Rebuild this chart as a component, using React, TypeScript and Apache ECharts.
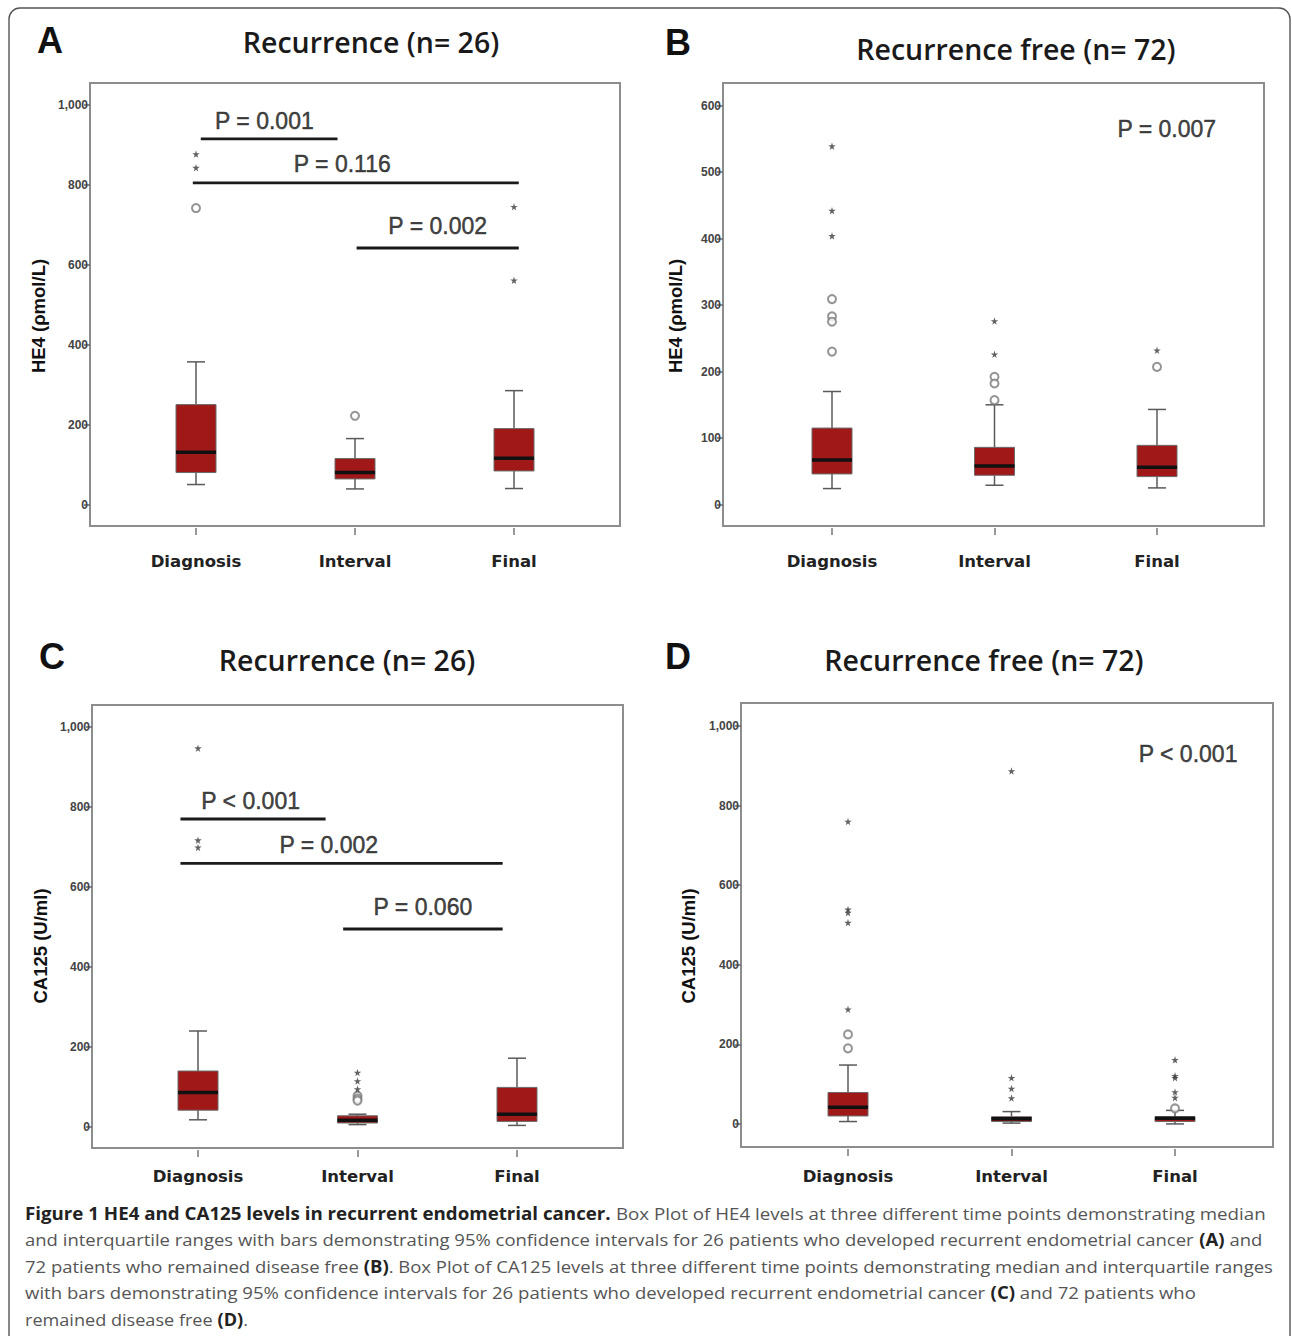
import React, { useEffect, useRef } from "react";
import * as echarts from "echarts";

// ---------------- data ----------------
const CATEGORIES = ["Diagnosis", "Interval", "Final"];

// [category index, lower whisker, Q1, median, Q3, upper whisker]
const A_BOXES = [
  [0, 50, 80, 131, 250, 357],
  [1, 39, 64, 80, 115, 165],
  [2, 40, 84, 116, 190, 285],
];
const A_CIRCLES = [[0, 742], [1, 222]];
const A_STARS = [[0, 877], [0, 843], [2, 745], [2, 561]];

const B_BOXES = [
  [0, 24, 46, 67, 115, 170],
  [1, 29, 44, 58, 86, 150],
  [2, 25, 42, 56, 89, 143],
];
const B_CIRCLES = [[0, 309], [0, 283], [0, 275], [0, 230], [1, 192], [1, 182], [1, 157], [2, 207]];
const B_STARS = [[0, 539], [0, 442], [0, 404], [1, 276], [1, 226], [2, 232]];

const C_BOXES = [
  [0, 18, 42, 86, 140, 240],
  [1, 6, 10, 17, 28, 32],
  [2, 4, 14, 32, 99, 172],
];
const C_CIRCLES = [[1, 78], [1, 71], [1, 66]];
const C_STARS = [[0, 947], [0, 717], [0, 699], [1, 136], [1, 115], [1, 95]];

const D_BOXES = [
  [0, 6, 20, 42, 79, 148],
  [1, 2, 6, 13, 18, 31],
  [2, 0, 6, 14, 18, 34],
];
const D_CIRCLES = [[0, 225], [0, 190], [2, 39]];
const D_STARS = [
  [0, 760], [0, 539], [0, 531], [0, 506], [0, 288],
  [1, 887], [1, 116], [1, 89], [1, 65],
  [2, 161], [2, 121], [2, 116], [2, 80], [2, 66],
];

// significance brackets: [x start, x end, y]  (x in category units)
const A_BRACKETS = [[0.03, 0.89, 915], [-0.02, 2.03, 805], [1.01, 2.03, 642]];
const A_PTEXTS: [string, number, number][] = [["P = 0.001", 0.43, 960], ["P = 0.116", 0.92, 852], ["P = 0.002", 1.52, 697]];
const B_BRACKETS: number[][] = [];
const B_PTEXTS: [string, number, number][] = [["P = 0.007", 2.06, 565]];
const C_BRACKETS = [[-0.11, 0.8, 770], [-0.11, 1.91, 659], [0.91, 1.91, 495]];
const C_PTEXTS: [string, number, number][] = [["P < 0.001", 0.33, 816], ["P = 0.002", 0.82, 705], ["P = 0.060", 1.41, 551]];
const D_BRACKETS: number[][] = [];
const D_PTEXTS: [string, number, number][] = [["P < 0.001", 2.08, 930]];

const TICKS_1000 = [0, 200, 400, 600, 800, 1000];
const TICKS_600 = [0, 100, 200, 300, 400, 500, 600];

const PANEL_LETTERS = ["A", "B", "C", "D"];
const PANEL_TITLES = ["Recurrence (n= 26)", "Recurrence free (n= 72)", "Recurrence (n= 26)", "Recurrence free (n= 72)"];
const Y_NAMES = ["HE4 (ρmol/L)", "HE4 (ρmol/L)", "CA125 (U/ml)", "CA125 (U/ml)"];

const CAPTION_LINES: [string, boolean][][] = [
  [["Figure 1 HE4 and CA125 levels in recurrent endometrial cancer.", true], [" Box Plot of HE4 levels at three different time points demonstrating median", false]],
  [["and interquartile ranges with bars demonstrating 95% confidence intervals for 26 patients who developed recurrent endometrial cancer ", false], ["(A)", true], [" and", false]],
  [["72 patients who remained disease free ", false], ["(B)", true], [". Box Plot of CA125 levels at three different time points demonstrating median and interquartile ranges", false]],
  [["with bars demonstrating 95% confidence intervals for 26 patients who developed recurrent endometrial cancer ", false], ["(C)", true], [" and 72 patients who", false]],
  [["remained disease free ", false], ["(D)", true], [".", false]],
];

// ---------------- layout ----------------
const PANELS = [
  { boxes: A_BOXES, circles: A_CIRCLES, stars: A_STARS, brackets: A_BRACKETS, ptexts: A_PTEXTS, ticks: TICKS_1000,
    frame: [90, 83, 620, 526], inner: [116.5, 593.5], yMin: -53.8, yMax: 1055, labelMargin: 25,
    letter: [50, 40], title: [371, 42], yName: [38, 316] },
  { boxes: B_BOXES, circles: B_CIRCLES, stars: B_STARS, brackets: B_BRACKETS, ptexts: B_PTEXTS, ticks: TICKS_600,
    frame: [723, 83, 1264, 526], inner: [750.75, 1238.25], yMin: -32.3, yMax: 634, labelMargin: 25,
    letter: [678, 42], title: [1016, 49], yName: [675, 316] },
  { boxes: C_BOXES, circles: C_CIRCLES, stars: C_STARS, brackets: C_BRACKETS, ptexts: C_PTEXTS, ticks: TICKS_1000,
    frame: [92, 705, 623, 1148], inner: [118.25, 596.75], yMin: -52.5, yMax: 1055, labelMargin: 18,
    letter: [52, 656], title: [347, 660], yName: [40, 946] },
  { boxes: D_BOXES, circles: D_CIRCLES, stars: D_STARS, brackets: D_BRACKETS, ptexts: D_PTEXTS, ticks: TICKS_1000,
    frame: [741, 703, 1273, 1147], inner: [766.25, 1256.75], yMin: -58, yMax: 1058, labelMargin: 19,
    letter: [678, 656], title: [984, 660], yName: [688, 946] },
];

const CAPTION_X = 25;
const CAPTION_Y = [1213, 1239, 1266, 1292, 1319];
const CAPTION_RIGHT = [1266, 1262, 1273, 1196, 248];
const CAPTION_SIZE = 17;

const STAR = "path://M50,0 L61,35 L98,35 L68,57 L79,91 L50,70 L21,91 L32,57 L2,35 L39,35 Z";

function measureCaption(line: [string, boolean][]) {
  const c = document.createElement("canvas").getContext("2d");
  if (!c) return 1;
  let w = 0;
  for (const [t, b] of line) {
    c.font = `${b ? "bold " : ""}${CAPTION_SIZE}px "Open Sans"`;
    w += c.measureText(t).width;
  }
  return w;
}

function buildOption() {
  const grid: any[] = [];
  const xAxis: any[] = [];
  const yAxis: any[] = [];
  const series: any[] = [];
  const graphic: any[] = [];

  PANELS.forEach((p, i) => {
    const [fl, ft, fr, fb] = p.frame;
    grid.push({ left: fl, top: ft, width: fr - fl, height: fb - ft, show: true, borderColor: "#8d8d8d", borderWidth: 2, backgroundColor: "transparent" });
    grid.push({ left: p.inner[0], top: ft, width: p.inner[1] - p.inner[0], height: fb - ft, show: false });
    const gFrame = 2 * i, gInner = 2 * i + 1;
    const xCat = 3 * i + 1, xVal = 3 * i + 2;
    const yInner = 2 * i + 1;

    xAxis.push({ gridIndex: gFrame, type: "value", min: 0, max: 1, show: false });
    xAxis.push({
      gridIndex: gInner, type: "category", data: CATEGORIES, boundaryGap: true, position: "bottom", offset: 2,
      axisLine: { show: false, onZero: false },
      axisTick: { show: true, alignWithLabel: true, length: 7, lineStyle: { color: "#777", width: 1.5 } },
      axisLabel: { fontFamily: "DejaVu Sans", fontWeight: "bold", fontSize: 16.5, color: "#222", margin: p.labelMargin },
      splitLine: { show: false },
    });
    xAxis.push({ gridIndex: gInner, type: "value", min: -0.5, max: 2.5, show: false, axisLine: { onZero: false } });

    yAxis.push({
      gridIndex: gFrame, type: "value", min: p.yMin, max: p.yMax,
      axisLine: { show: false, onZero: false },
      axisTick: { show: true, length: 6, customValues: p.ticks, lineStyle: { color: "#666", width: 1.5 } },
      axisLabel: {
        customValues: p.ticks, margin: 2, fontFamily: "Liberation Sans", fontWeight: "bold", fontSize: 12, color: "#444",
        formatter: (v: number) => v.toLocaleString("en-US"),
      },
      splitLine: { show: false },
    });
    yAxis.push({ gridIndex: gInner, type: "value", min: p.yMin, max: p.yMax, show: false, splitLine: { show: false } });

    series.push({
      type: "custom", xAxisIndex: xCat, yAxisIndex: yInner, clip: false,
      dimensions: ["cat", "low", "q1", "median", "q3", "high"],
      encode: { x: 0, y: [1, 2, 3, 4, 5] },
      data: p.boxes,
      renderItem: (params: any, api: any) => {
        const c = api.value(0);
        const pl = api.coord([c, api.value(1)]);
        const p1 = api.coord([c, api.value(2)]);
        const pm = api.coord([c, api.value(3)]);
        const p3 = api.coord([c, api.value(4)]);
        const ph = api.coord([c, api.value(5)]);
        const x = pl[0];
        const half = 20, cap = 9;
        const wStyle = { stroke: "#5a5a5a", lineWidth: 1.5 };
        return {
          type: "group",
          children: [
            { type: "line", shape: { x1: x, y1: ph[1], x2: x, y2: p3[1] }, style: wStyle },
            { type: "line", shape: { x1: x, y1: p1[1], x2: x, y2: pl[1] }, style: wStyle },
            { type: "line", shape: { x1: x - cap, y1: ph[1], x2: x + cap, y2: ph[1] }, style: wStyle },
            { type: "line", shape: { x1: x - cap, y1: pl[1], x2: x + cap, y2: pl[1] }, style: wStyle },
            { type: "rect", shape: { x: x - half, y: p3[1], width: 2 * half, height: p1[1] - p3[1] }, style: { fill: "#a01818", stroke: "#6a6a6a", lineWidth: 1 } },
            { type: "line", shape: { x1: x - half, y1: pm[1], x2: x + half, y2: pm[1] }, style: { stroke: "#111", lineWidth: 3.5 } },
          ],
        };
      },
    });
    series.push({
      type: "scatter", xAxisIndex: xCat, yAxisIndex: yInner, data: p.circles, symbol: "emptyCircle", symbolSize: 8,
      itemStyle: { color: "#7a7a7a", borderWidth: 1.5 }, clip: false,
    });
    series.push({
      type: "scatter", xAxisIndex: xCat, yAxisIndex: yInner, data: p.stars, symbol: STAR, symbolSize: 7.5,
      itemStyle: { color: "#3a3a3a" }, clip: false,
    });
    p.brackets.forEach((b) => {
      series.push({
        type: "line", xAxisIndex: xVal, yAxisIndex: yInner, data: [[b[0], b[2]], [b[1], b[2]]],
        symbol: "none", showSymbol: false, clip: false,
        lineStyle: { color: "#1a1a1a", width: 2.8 },
      });
    });
    series.push({
      type: "scatter", xAxisIndex: xVal, yAxisIndex: yInner, clip: false, symbolSize: 1,
      itemStyle: { color: "transparent" },
      data: p.ptexts.map(([t, x, y]) => ({ name: t, value: [x, y] })),
      label: {
        show: true, position: "inside", formatter: "{b}", fontFamily: "Liberation Sans", fontSize: 23, color: "#111",
        textBorderColor: "#111", textBorderWidth: 0.5,
      },
    });

    graphic.push({
      type: "text", x: p.letter[0], y: p.letter[1],
      style: { text: PANEL_LETTERS[i], fontFamily: "Liberation Sans", fontWeight: "bold", fontSize: 36, fill: "#111", align: "center", verticalAlign: "middle" },
    });
    graphic.push({
      type: "text", x: p.title[0], y: p.title[1],
      style: { text: PANEL_TITLES[i], fontFamily: "Open Sans", fontWeight: 600, fontSize: 28.5, fill: "#1a1a1a", align: "center", verticalAlign: "middle" },
    });
    graphic.push({
      type: "text", x: p.yName[0], y: p.yName[1], rotation: Math.PI / 2,
      style: { text: Y_NAMES[i], fontFamily: "Liberation Sans", fontWeight: "bold", fontSize: 18.5, fill: "#111", align: "center", verticalAlign: "middle" },
    });
  });

  graphic.push({
    type: "rect", shape: { x: 9, y: 8, width: 1281, height: 1360, r: 11 },
    style: { fill: "none", stroke: "#555", lineWidth: 1.4 }, silent: true,
  });

  CAPTION_LINES.forEach((line, k) => {
    const text = line.map(([t, b]) => (b ? `{b|${t}}` : `{n|${t}}`)).join("");
    const w = measureCaption(line);
    const sx = (CAPTION_RIGHT[k] - CAPTION_X) / (w as number);
    graphic.push({
      type: "text", x: CAPTION_X, y: CAPTION_Y[k], scaleX: sx,
      style: {
        text, fontFamily: "Open Sans", fontSize: CAPTION_SIZE, fill: "#555", verticalAlign: "middle", align: "left",
        rich: {
          b: { fontFamily: "Open Sans", fontSize: CAPTION_SIZE, fontWeight: "bold", fill: "#222", color: "#222" },
          n: { fontFamily: "Open Sans", fontSize: CAPTION_SIZE, fill: "#555", color: "#555" },
        },
      },
    });
  });

  return { animation: false, backgroundColor: "#fff", grid, xAxis, yAxis, series, graphic };
}

export default function App() {
  const ref = useRef<HTMLDivElement>(null);
  useEffect(() => {
    if (!ref.current) return;
    const chart = echarts.init(ref.current, undefined, { renderer: "svg" });
    chart.setOption(buildOption() as any);
    return () => chart.dispose();
  }, []);
  return <div ref={ref} style={{ position: "absolute", left: 0, top: 0, width: 1292, height: 1336, background: "#fff" }} />;
}
